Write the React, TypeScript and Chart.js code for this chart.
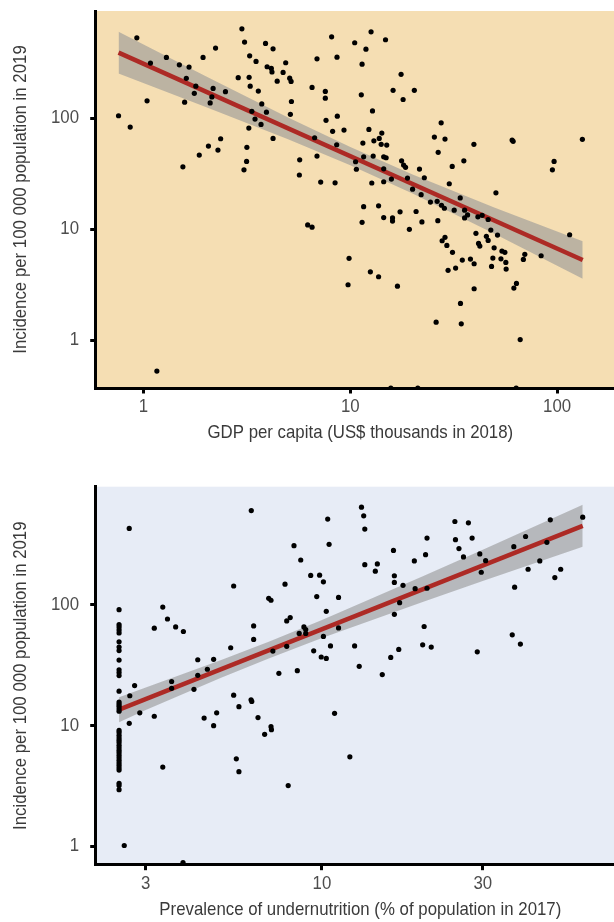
import React, { useEffect, useRef } from 'react';
import { Chart, registerables } from 'chart.js';

Chart.register(...registerables);

const FONT = "'Liberation Sans', Arial, sans-serif";

// ---------- Panel 1: GDP per capita vs incidence ----------
const gdpX = [
  0.928, 0.757, 0.862, 1.08, 1.04, 1.29, 1.49, 1.66, 1.61, 1.58, 1.55, 1.79, 1.76, 1.94, 2.23, 2.17, 2.14, 2.10, 2.49, 2.36,
  2.06, 2.29, 1.86, 2.99, 3.08, 3.26, 3.50, 3.89, 4.23, 3.96, 4.15, 4.18, 4.87, 4.73, 4.43, 5.09, 5.17, 2.87, 3.24, 3.28,
  3.59, 3.73, 3.34, 3.46, 3.93, 3.70, 3.23, 4.23, 3.16, 3.15, 3.06, 5.19, 5.13, 5.69, 5.67, 6.53, 6.90, 7.57, 7.57, 7.63,
  8.65, 8.21, 9.32, 6.72, 6.90, 8.59, 7.19, 8.44, 8.12, 8.62, 10.5, 10.6, 10.7, 12.6, 14.8, 11.9, 11.4, 17.6, 16.1, 20.4,
  18.0, 11.3, 12.8, 12.3, 14.2, 13.8, 13.0, 14.1, 15.0, 11.5, 11.6, 12.9, 14.5, 14.9, 12.7, 14.5, 14.5, 15.8, 17.7, 18.1,
  18.5, 18.9, 20.0, 21.6, 22.8, 22.0, 27.5, 25.5, 28.7, 26.6, 31.1, 30.1, 35.4, 39.6, 34.0, 50.6, 24.4, 26.3, 27.6, 11.6,
  13.7, 60.6, 61.3, 96.7, 94.9, 132.5, 6.22, 6.53, 9.86, 9.75, 1.16, 28.5, 11.4, 14.5, 16.0, 16.0, 17.4, 20.8, 22.2, 19.3,
  26.5, 31.8, 35.7, 35.7, 36.9, 41.4, 43.4, 46.4, 40.5, 45.5, 46.4, 51.5, 47.8, 28.7, 27.8, 29.3, 31.2, 41.7, 42.3, 49.6,
  54.1, 55.9, 48.9, 53.5, 56.5, 48.2, 56.7, 34.8, 38.1, 39.7, 32.3, 29.7, 69.8, 68.7, 83.7, 115, 12.5, 13.7, 16.9, 39.7,
  63.6, 61.8, 34.1, 26.0, 34.4, 66.3, 15.7, 21.2, 63.4,
];
const gdpIncidence = [
  529, 105, 83, 313, 143, 352, 302, 288, 228, 139, 36.4, 194, 167, 352, 427, 185, 155, 137, 173, 65.1,
  55.9, 51.5, 46.4, 637, 484, 364, 324, 471, 421, 290, 280, 260, 315, 258, 215, 229, 214, 231, 233, 194,
  175, 134, 115, 98, 113, 87.7, 81.3, 65.6, 54.5, 40.7, 34.2, 141, 108, 42.1, 30.7, 189, 342, 174, 151, 95.4,
  104, 75.9, 78, 66.5, 45.5, 57.5, 26.5, 26.1, 540, 354, 477, 40.4, 34.6, 599, 508, 418, 306, 248, 178, 178,
  147, 162, 116, 79.1, 73.3, 65.6, 62.4, 58.0, 57.1, 59.5, 44.8, 45.5, 44.8, 43.9, 26.0, 34.9, 26.7, 28.2, 41.2, 37.7,
  36.0, 28.8, 22.9, 34.7, 29.0, 20.4, 90.7, 67.4, 64.7, 49.1, 36.7, 25.6, 41.2, 58.0, 19.1, 21.2, 17.5, 17.8, 16.4, 15.9,
  16.2, 63.4, 61.7, 40.7, 34.2, 64.3, 10.9, 10.4, 5.45, 3.15, 0.526, 15.4, 11.5, 12.7, 12.6, 11.8, 14.3, 14.4, 11.6, 9.94,
  11.9, 14.8, 14.8, 12.6, 13.4, 12.9, 13.3, 12.2, 9.15, 8.6, 7.91, 8.83, 9.8, 8.42, 7.85, 7.13, 6.17, 7.43, 7.03, 6.78,
  6.34, 6.17, 5.48, 5.40, 5.01, 4.61, 4.36, 5.26, 5.37, 4.87, 4.45, 4.25, 5.92, 5.33, 5.75, 8.89, 4.12, 3.72, 3.06, 2.90,
  3.24, 2.94, 2.14, 1.45, 1.40, 1.01, 0.37, 0.37, 0.37,
];
const gdpFitX = [0.757, 133];
const gdpFitY = [389, 5.26];
const gdpBandX = [0.757, 2, 5, 10, 20, 50, 133];
const gdpBandUpper = [601, 238, 101, 54.8, 31.1, 15.6, 7.77];
const gdpBandLower = [252, 126, 64.6, 37.6, 20.9, 9.01, 3.56];
const gdpXTicks = [1, 10, 100];
const gdpYTicks = [1, 10, 100];

// ---------- Panel 2: undernutrition vs incidence ----------
const underX = [
  2.5, 2.5, 2.5, 2.5, 2.5, 2.5, 2.5, 2.5, 2.5, 2.5, 2.5, 2.5, 2.5, 2.5, 2.5, 2.5, 2.5, 2.5, 2.5, 2.5,
  2.5, 2.5, 2.5, 2.5, 2.5, 2.5, 2.5, 2.5, 2.5, 2.5, 2.5, 2.5, 2.5, 2.5, 2.5, 2.5, 2.5, 2.5,
  6.17, 2.68, 10.4, 10.5, 8.26, 8.65, 9.26, 9.84, 10.1, 7.77, 5.47, 6.95, 7.06, 9.65, 11.2, 10.3, 3.37, 3.48, 3.68, 3.88,
  3.18, 7.86, 8.05, 6.27, 6.27, 8.56, 8.84, 8.95, 8.95, 11.2, 10.1, 10.6, 9.45, 9.95, 10.3, 7.86, 7.15, 5.36, 4.28, 4.77,
  4.57, 7.45, 8.45, 12.5, 10.9,
  13.1, 13.3, 13.4, 13.4, 14.6, 14.4, 16.3, 16.4, 16.4, 17.4, 17.0, 16.4, 18.9, 18.8, 20.3, 20.5, 20.5, 20.1, 19.9, 21.1,
  16.9, 16.0, 12.9, 15.1, 24.8, 27.2, 24.9, 27.9, 25.5, 26.3, 29.4, 30.6, 29.7, 28.9, 37.1, 40.2, 40.9, 37.3, 36.7, 38.8,
  44.3, 46.5, 47.6, 49.1, 51.1, 59.4,
  2.69, 2.78, 2.88, 2.68, 3.18, 3.58, 3.58, 4.17, 4.28, 3.37, 2.59, 3.87, 4.47, 4.77, 4.87, 5.47, 5.67, 6.16, 6.19, 6.46,
  7.06, 7.08, 6.76, 5.57, 5.67, 7.94, 12.1,
];
const underIncidence = [
  91.1, 68.5, 65.5, 61.9, 58.4, 49.3, 44.6, 41.7, 34.8, 28.9, 27.4, 25.9, 19.2, 15.6, 15.0, 14.4, 13.7, 13.1, 9.09, 8.71,
  8.27, 7.87, 7.52, 7.20, 6.84, 6.51, 6.22, 5.96, 5.66, 5.38, 5.14, 4.90, 4.68, 4.45, 4.26, 3.31, 3.17, 2.93,
  604, 429, 513, 317, 309, 235, 175, 176, 155, 148, 143, 113, 109, 117, 115, 88.2, 95.7, 76.2, 65.5, 60.0,
  63.9, 73.4, 78.3, 66.8, 51.6, 57.8, 65.5, 62.3, 57.8, 64.3, 54.6, 45.6, 41.5, 36.9, 35.9, 45.2, 41.3, 44.0, 35.0, 35.3,
  29.2, 27.0, 28.4, 45.6, 12.6,
  644, 546, 424, 215, 218, 190, 282, 174, 153, 145, 104, 83.3, 136, 231, 260, 357, 137, 66.0, 46.5, 44.6,
  42.6, 36.6, 30.9, 26.4, 490, 478, 346, 357, 292, 249, 264, 232, 186, 40.7, 303, 368, 197, 140, 56.3, 47.2,
  231, 329, 506, 168, 197, 532,
  17.6, 21.4, 12.7, 10.4, 11.9, 23.1, 20.3, 19.9, 26.0, 4.51, 1.01, 0.73, 11.5, 9.94, 12.7, 17.8, 14.3, 16.3, 15.8, 11.6,
  9.76, 9.22, 8.43, 5.28, 4.13, 3.17, 5.49,
];
const underFitX = [2.5, 59.4];
const underFitY = [13.5, 451];
const underBandX = [2.5, 3, 5, 6.95, 10, 20, 30, 59.4];
const underBandUpper = [17.1, 20.6, 34.7, 49.4, 74.8, 173, 286, 675];
const underBandLower = [10.6, 13.4, 24.7, 35.8, 52.9, 106, 157, 302];
const underXTicks = [3, 10, 30];
const underYTicks = [1, 10, 100];

const bgPlugin = {
  id: 'panelBg',
  beforeDraw(chart: any, _args: any, opts: any) {
    const { ctx, chartArea: a } = chart;
    ctx.save();
    ctx.fillStyle = opts.color;
    ctx.fillRect(a.left, a.top, a.right - a.left, a.bottom - a.top);
    ctx.restore();
  },
};

// Draws tick labels and axis titles in a horizontally condensed face.
const SX = 0.885;
function drawLabel(ctx: any, text: string, x: number, y: number, size: number, color: string, align: string, rotate: boolean) {
  ctx.save();
  ctx.translate(x, y);
  if (rotate) ctx.rotate(-Math.PI / 2);
  ctx.scale(SX, 1);
  ctx.font = `${size}px ${FONT}`;
  ctx.fillStyle = color;
  ctx.textAlign = align;
  ctx.textBaseline = 'middle';
  ctx.fillText(text, 0, 0);
  ctx.restore();
}

const textPlugin = {
  id: 'axisText',
  afterDraw(chart: any, _args: any, o: any) {
    const { ctx, chartArea: a, scales } = chart;
    const xs = scales.x;
    const ys = scales.y;
    o.xTicks.forEach((v: number) => {
      drawLabel(ctx, String(v), xs.getPixelForValue(v), a.bottom + o.xLabelGap, 19, '#4d4d4d', 'center', false);
    });
    o.yTicks.forEach((v: number) => {
      drawLabel(ctx, String(v), a.left - 16.7, ys.getPixelForValue(v), 19, '#4d4d4d', 'right', false);
    });
    drawLabel(ctx, o.xTitle, (a.left + a.right) / 2, o.xTitleY, 19, '#3a3a3a', 'center', false);
    drawLabel(ctx, o.yTitle, 21, (a.top + a.bottom) / 2, 19, '#3a3a3a', 'center', true);
  },
};

type PanelProps = {
  xs: number[]; ys: number[];
  fitX: number[]; fitY: number[];
  bandX: number[]; bandU: number[]; bandL: number[];
  xMin: number; xMax: number; yMin: number; yMax: number;
  xTicks: number[]; yTicks: number[];
  xTitle: string; yTitle: string;
  bg: string; height: number; padTop: number; xScaleHeight: number;
  xLabelGap: number; xTitleY: number;
};

const WIDTH = 625;

function Panel(p: PanelProps) {
  const ref = useRef<HTMLCanvasElement | null>(null);
  useEffect(() => {
    if (!ref.current) return;
    const pts = (xa: number[], ya: number[]) => xa.map((x, i) => ({ x, y: ya[i] }));
    const gridOpts = {
      display: true, drawOnChartArea: false, drawTicks: true,
      tickLength: 5.5, tickWidth: 3, tickColor: '#000', color: '#000', lineWidth: 3,
    };
    const borderOpts = { display: true, color: '#000', width: 3 };
    const chart = new Chart(ref.current, {
      type: 'scatter',
      data: {
        datasets: [
          {
            label: 'points', data: pts(p.xs, p.ys), showLine: false,
            pointRadius: 2.6, pointBackgroundColor: '#000', pointBorderColor: '#000', pointBorderWidth: 0,
          },
          {
            label: 'fit', data: pts(p.fitX, p.fitY), showLine: true,
            borderColor: '#ad2a25', borderWidth: 4.5, pointRadius: 0, fill: false,
          },
          {
            label: 'upper', data: pts(p.bandX, p.bandU), showLine: true,
            borderColor: 'transparent', borderWidth: 0, pointRadius: 0,
            fill: '+1', backgroundColor: 'rgba(150,150,150,0.6)',
          },
          {
            label: 'lower', data: pts(p.bandX, p.bandL), showLine: true,
            borderColor: 'transparent', borderWidth: 0, pointRadius: 0, fill: false,
          },
        ],
      } as any,
      options: {
        animation: false,
        responsive: false,
        maintainAspectRatio: false,
        events: [],
        layout: { autoPadding: false, padding: { top: p.padTop, left: 0, right: 0, bottom: 0 } },
        plugins: {
          legend: { display: false },
          tooltip: { enabled: false },
          panelBg: { color: p.bg },
          axisText: {
            xTicks: p.xTicks, yTicks: p.yTicks, xTitle: p.xTitle, yTitle: p.yTitle,
            xLabelGap: p.xLabelGap, xTitleY: p.xTitleY,
          },
        } as any,
        scales: {
          x: {
            type: 'logarithmic', position: 'bottom', min: p.xMin, max: p.xMax, z: 1,
            afterBuildTicks: (s: any) => { s.ticks = p.xTicks.map((v) => ({ value: v })); },
            afterFit: (s: any) => { s.height = p.xScaleHeight; },
            ticks: { display: false, autoSkip: false, maxRotation: 0, minRotation: 0 },
            grid: gridOpts, border: borderOpts,
            title: { display: false },
          },
          y: {
            type: 'logarithmic', position: 'left', min: p.yMin, max: p.yMax, z: 1,
            afterBuildTicks: (s: any) => { s.ticks = p.yTicks.map((v) => ({ value: v })); },
            afterFit: (s: any) => { s.width = 95.7; },
            ticks: { display: false, autoSkip: false },
            grid: gridOpts, border: borderOpts,
            title: { display: false },
          },
        } as any,
      },
      plugins: [bgPlugin, textPlugin],
    });
    return () => chart.destroy();
  }, []);
  return (
    <canvas
      ref={ref}
      width={WIDTH}
      height={p.height}
      style={{ display: 'block', width: WIDTH, height: p.height }}
    />
  );
}

export default function App() {
  return (
    <div style={{ position: 'absolute', left: 0, top: 0, width: 614, height: 922, overflow: 'hidden', background: '#fff' }}>
      <Panel
        xs={gdpX} ys={gdpIncidence}
        fitX={gdpFitX} fitY={gdpFitY}
        bandX={gdpBandX} bandU={gdpBandUpper} bandL={gdpBandLower}
        xMin={0.587} xMax={213} yMin={0.37} yMax={922}
        xTicks={gdpXTicks} yTicks={gdpYTicks}
        xTitle="GDP per capita (US$ thousands in 2018)"
        yTitle="Incidence per 100 000 population in 2019"
        bg="#f5deb3" height={460} padTop={11} xScaleHeight={72}
        xLabelGap={19} xTitleY={432.7}
      />
      <Panel
        xs={underX} ys={underIncidence}
        fitX={underFitX} fitY={underFitY}
        bandX={underBandX} bandU={underBandUpper} bandL={underBandLower}
        xMin={2.131} xMax={79.3} yMin={0.728} yMax={952}
        xTicks={underXTicks} yTicks={underYTicks}
        xTitle="Prevalence of undernutrition (% of population in 2017)"
        yTitle="Incidence per 100 000 population in 2019"
        bg="#e7ecf6" height={462} padTop={26.7} xScaleHeight={57.3}
        xLabelGap={18.6} xTitleY={450}
      />
    </div>
  );
}
